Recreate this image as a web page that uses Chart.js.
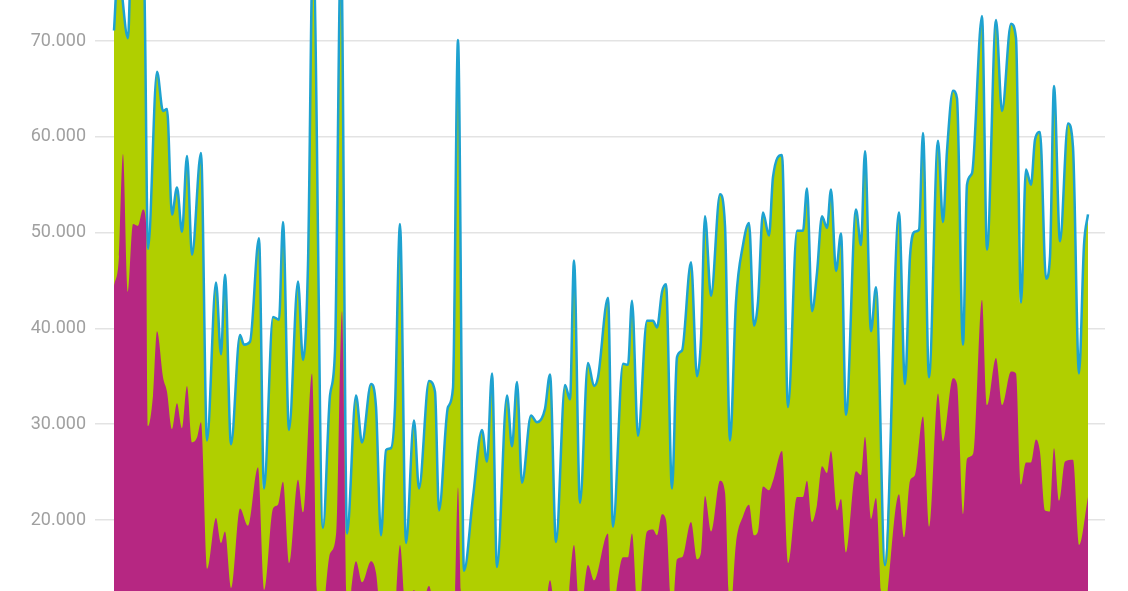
<!DOCTYPE html>
<html><head><meta charset="utf-8">
<script src="https://cdn.jsdelivr.net/npm/chart.js@4/dist/chart.umd.min.js"></script>
<style>html,body{margin:0;padding:0;background:#fff}#w{width:1128px;height:591px}</style>
</head><body><div id="w"><canvas id="c"></canvas></div>
<script>
const totalT = [0,4,14,17,24,30,34,43,49,53,58,63,68,73,78,87,93,102,107,111,117,126,130,136,145,150,159,165,169,175,184,189,194,199,209,216,221,227,233,242,248,257,262,267,272,277,281,286,292,300,305,315,321,325,334,339,344,350,359,368,373,378,383,393,398,403,408,417,423,431,436,442,451,456,460,466,474,480,484,494,499,509,514,518,524,533,539,543,548,552,558,563,568,577,583,587,591,597,606,611,616,622,629,635,640,644,649,655,659,668,674,683,689,693,698,703,708,713,717,722,727,732,742,747,751,757,762,771,785,791,796,801,805,809,815,824,829,833,839,843,849,853,858,868,873,882,888,897,902,907,912,917,921,926,932,936,940,946,954,959,965,970,974];
const totalV = [71100,77500,70300,78000,79000,77000,48300,66800,62700,62900,51900,54700,50100,58000,47700,58300,28300,44800,37300,45600,27900,39300,38300,38600,49400,23300,41200,40900,51100,29400,44900,36700,46700,80000,19200,33000,37700,80000,18600,33000,28100,34200,31800,18400,27300,27500,31800,50900,17600,30400,23300,34500,33400,21000,31800,33800,70100,14700,22400,29400,26100,35300,15100,33000,27700,34400,23900,30900,30200,31600,35200,17700,34100,32600,47100,21800,36400,34000,34900,43200,19300,36300,36200,42900,28800,40800,40800,40100,43800,44600,23300,37000,37700,46900,35000,38900,51700,43400,54000,50700,28300,42800,48700,51000,40300,42800,52100,49700,55800,58100,31800,50200,50200,54600,41800,45800,51700,50500,54500,46000,49900,31000,52400,48700,58500,39700,44300,15300,52100,34200,47500,50100,50300,60400,34900,59600,51100,58500,64800,64000,38300,55000,56200,72600,48200,72200,62700,71800,70300,42700,56600,55000,59700,60500,45200,47500,65300,49100,61400,58900,35300,48700,51900];
const partT = [0,5,9,14,19,24,29,32,34,39,43,49,53,58,63,68,73,78,83,87,93,102,107,111,117,126,134,144,150,159,164,169,175,184,189,198,204,208,216,222,228,233,242,248,257,262,267,280,286,292,300,306,315,322,340,344,348,430,436,442,452,460,466,474,480,494,497,509,514,518,524,533,539,543,548,552,558,563,568,577,583,587,591,597,606,611,616,622,629,635,640,644,649,655,659,668,674,683,689,693,698,703,708,713,717,723,727,732,742,747,751,757,762,769,785,790,796,801,809,815,824,829,839,843,849,853,859,868,873,882,888,897,902,907,912,917,922,926,931,936,940,945,951,959,965,974];
const partV = [44400,47500,58200,43800,50900,50700,52400,51000,29800,33000,39700,34900,33400,29500,32200,29600,34000,28100,28600,30200,14900,20200,17600,18800,12900,21200,19400,25500,12700,21200,21600,24000,15500,24200,20800,35300,10000,10000,16500,18500,41800,10000,15700,13500,15700,14500,10000,10000,17400,10000,12700,10000,13100,10000,10000,23400,10000,10000,13700,10000,10000,17400,10000,15300,13700,18600,10000,16100,16100,18600,10000,18800,19000,18400,20600,20000,10000,15900,16100,19800,15900,16600,22500,18800,24100,22900,10000,17600,20400,21600,18400,18800,23500,23100,24100,27200,15500,22400,22400,24100,19800,21600,25600,24900,27200,21000,22200,16600,25100,24700,28700,20100,22300,10000,22700,18200,24100,24700,30800,19300,33200,28200,34800,34200,20600,26400,26900,43000,32000,36900,32000,35500,35300,23700,26000,26000,28400,27100,21000,20900,27500,22000,26100,26300,17400,22400];
const yTicks = [20000,30000,40000,50000,60000,70000];

const pts = (t,v)=>t.map((x,i)=>({x:x,y:v[i]}));
new Chart(document.getElementById('c'),{
  type:'line',
  data:{datasets:[
    {data:pts(totalT,totalV),fill:'origin',backgroundColor:'#b0cf00',borderColor:'#1ea2d0',borderWidth:2.5,pointRadius:0,cubicInterpolationMode:'monotone',order:2},
    {data:pts(partT,partV),fill:'origin',backgroundColor:'#b62782',borderWidth:0,pointRadius:0,cubicInterpolationMode:'monotone',order:1}
  ]},
  options:{
    responsive:true,maintainAspectRatio:false,animation:false,
    layout:{padding:{left:0,right:23,top:0,bottom:0}},
    plugins:{legend:{display:false},tooltip:{enabled:false}},
    scales:{
      x:{type:'linear',min:-19,max:991,display:false},
      y:{min:12590,max:74280,
        afterBuildTicks:s=>{s.ticks=yTicks.map(v=>({value:v}));},
        afterFit:s=>{s.width=95;s.paddingTop=0;s.paddingBottom=0;},
        grid:{color:'#e3e3e3',lineWidth:1.5,drawTicks:false},
        border:{display:false},
        ticks:{padding:9,color:'#a0a0a0',font:{family:'Roboto',size:18},
          callback:v=>v.toLocaleString('de-DE')}
      }
    }
  }
});
</script></body></html>
